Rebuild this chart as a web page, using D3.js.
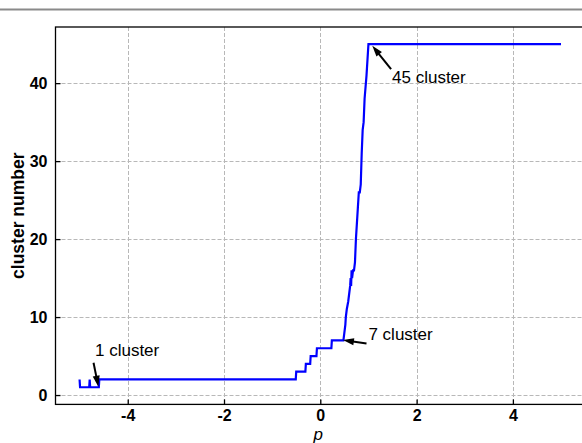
<!DOCTYPE html>
<html>
<head>
<meta charset="utf-8">
<script src="https://cdn.jsdelivr.net/npm/d3@7"></script>
<style>
  html, body { margin: 0; padding: 0; background: #fff; }
  svg { display: block; }
  text { font-family: "Liberation Sans", Arial, sans-serif; }
</style>
</head>
<body>
<svg id="chart" width="582" height="443"></svg>
<script>
// Number of clusters as a function of the preference parameter p
const pValues = [
  -5.00, -4.99, -4.80, -4.79, -4.78, -4.60, -4.59,
  -0.51, -0.50, -0.31, -0.30, -0.21, -0.20, -0.08, -0.07, 0.23, 0.24, 0.48,
  0.50, 0.52, 0.53, 0.55, 0.58, 0.62, 0.63, 0.64, 0.65, 0.66, 0.68, 0.70,
  0.72, 0.74, 0.78, 0.80, 0.82, 0.84, 0.86, 0.88, 0.90, 0.92, 0.96, 1.00, 5.00
];
const clusterCounts = [
  2, 1, 1, 2, 1, 1, 2,
  2, 3, 3, 4, 4, 5, 5, 6, 6, 7, 7,
  8, 9, 10, 11, 12, 14, 15, 14, 16, 15, 16, 16,
  17, 20, 24, 26, 26, 27, 31, 34, 35, 38, 41, 45, 45
];

const xTicks = [-4, -2, 0, 2, 4];
const xTickLabels = ["-4", "-2", "0", "2", "4"];
const yTicks = [0, 10, 20, 30, 40];
const yTickLabels = ["0", "10", "20", "30", "40"];

// Callouts: label, point marked by the arrow tip, arrow tail, text anchor (data units)
const calloutLabels = ["1 cluster", "7 cluster", "45 cluster"];
const calloutTips   = [[-4.61, 1.07], [0.47, 7.05], [1.08, 44.8]];
const calloutTails  = [[-4.71, 4.15], [0.96, 6.6], [1.47, 41.8]];
const calloutTexts  = [[-4.68, 5.0], [1.0, 7.05], [1.49, 40.0]];

const svg = d3.select("#chart");
const W = 582, H = 443;
const mLeft = 55.5, mTop = 27, plotW = 529.6, plotH = 377.4;

const x = d3.scaleLinear().domain([-5.5, 5.5]).range([mLeft, mLeft + plotW]);
const y = d3.scaleLinear().domain([-1.2, 47.2]).range([mTop + plotH, mTop]);

// thin rule across the top of the figure
svg.append("line")
  .attr("x1", 0).attr("x2", W).attr("y1", 9.5).attr("y2", 9.5)
  .attr("stroke", "#8a8a8a").attr("stroke-width", 2);

svg.append("defs").append("clipPath").attr("id", "plotClip")
  .append("rect").attr("x", mLeft).attr("y", mTop).attr("width", plotW).attr("height", plotH);

// dashed grid
const grid = svg.append("g").attr("clip-path", "url(#plotClip)");
grid.selectAll(".gx").data(xTicks).join("line")
  .attr("x1", d => Math.round(x(d)) + 0.5).attr("x2", d => Math.round(x(d)) + 0.5)
  .attr("y1", mTop).attr("y2", mTop + plotH)
  .attr("stroke", "#b8b8b8").attr("stroke-width", 1).attr("stroke-dasharray", "4,2");
grid.selectAll(".gy").data(yTicks).join("line")
  .attr("x1", mLeft).attr("x2", mLeft + plotW)
  .attr("y1", d => Math.round(y(d)) + 0.5).attr("y2", d => Math.round(y(d)) + 0.5)
  .attr("stroke", "#b8b8b8").attr("stroke-width", 1).attr("stroke-dasharray", "4,2");

// the curve
const series = pValues.map((p, i) => [p, clusterCounts[i]]);
svg.append("g").attr("clip-path", "url(#plotClip)")
  .append("path").datum(series)
  .attr("fill", "none").attr("stroke", "#0000ff").attr("stroke-width", 2.2)
  .attr("stroke-linejoin", "miter")
  .attr("d", d3.line().x(d => x(d[0])).y(d => y(d[1])));

// axes with inward ticks
const xAxis = d3.axisBottom(x).tickValues(xTicks).tickFormat((d, i) => xTickLabels[i])
  .tickSizeInner(-5).tickSizeOuter(0).tickPadding(5);
const gx = svg.append("g").attr("transform", `translate(0,${mTop + plotH})`).call(xAxis);
gx.select(".domain").remove();
gx.selectAll(".tick line").attr("stroke", "#000").attr("stroke-width", 1.3);
gx.selectAll(".tick text").attr("font-size", 16).attr("font-weight", "bold")
  .attr("font-family", "Liberation Sans, Arial, sans-serif").attr("fill", "#000");

const yAxis = d3.axisLeft(y).tickValues(yTicks).tickFormat((d, i) => yTickLabels[i])
  .tickSizeInner(-5).tickSizeOuter(0).tickPadding(8);
const gy = svg.append("g").attr("transform", `translate(${mLeft},0)`).call(yAxis);
gy.select(".domain").remove();
gy.selectAll(".tick line").attr("stroke", "#000").attr("stroke-width", 1.3);
gy.selectAll(".tick text").attr("font-size", 16).attr("font-weight", "bold")
  .attr("font-family", "Liberation Sans, Arial, sans-serif").attr("fill", "#000");

// frame
svg.append("rect").attr("x", mLeft).attr("y", mTop).attr("width", plotW).attr("height", plotH)
  .attr("fill", "none").attr("stroke", "#000").attr("stroke-width", 1.3);

// axis titles
svg.append("text")
  .attr("transform", `translate(24,${mTop + plotH / 2}) rotate(-90)`)
  .attr("text-anchor", "middle").attr("font-size", 17.5).attr("font-weight", "bold")
  .text("cluster number");
svg.append("text")
  .attr("x", x(0) - 2).attr("y", 440).attr("text-anchor", "middle")
  .attr("font-size", 17).attr("font-style", "italic").text("p");

// callouts
const callouts = svg.append("g");
calloutLabels.forEach((label, i) => {
  const [tx, ty] = [x(calloutTips[i][0]), y(calloutTips[i][1])];
  const [sx, sy] = [x(calloutTails[i][0]), y(calloutTails[i][1])];
  const dx = tx - sx, dy = ty - sy, len = Math.hypot(dx, dy);
  const ux = dx / len, uy = dy / len;
  const headLen = 11, headHalf = 3.5;
  const bx = tx - ux * headLen, by = ty - uy * headLen;
  callouts.append("line")
    .attr("x1", sx).attr("y1", sy).attr("x2", bx + ux).attr("y2", by + uy)
    .attr("stroke", "#000").attr("stroke-width", 2);
  callouts.append("path")
    .attr("d", `M${tx},${ty} L${bx - uy * headHalf},${by + ux * headHalf} L${bx + uy * headHalf},${by - ux * headHalf} Z`)
    .attr("fill", "#000");
  callouts.append("text")
    .attr("x", x(calloutTexts[i][0])).attr("y", y(calloutTexts[i][1]))
    .attr("font-size", 17).attr("fill", "#000").text(label);
});
</script>
</body>
</html>
